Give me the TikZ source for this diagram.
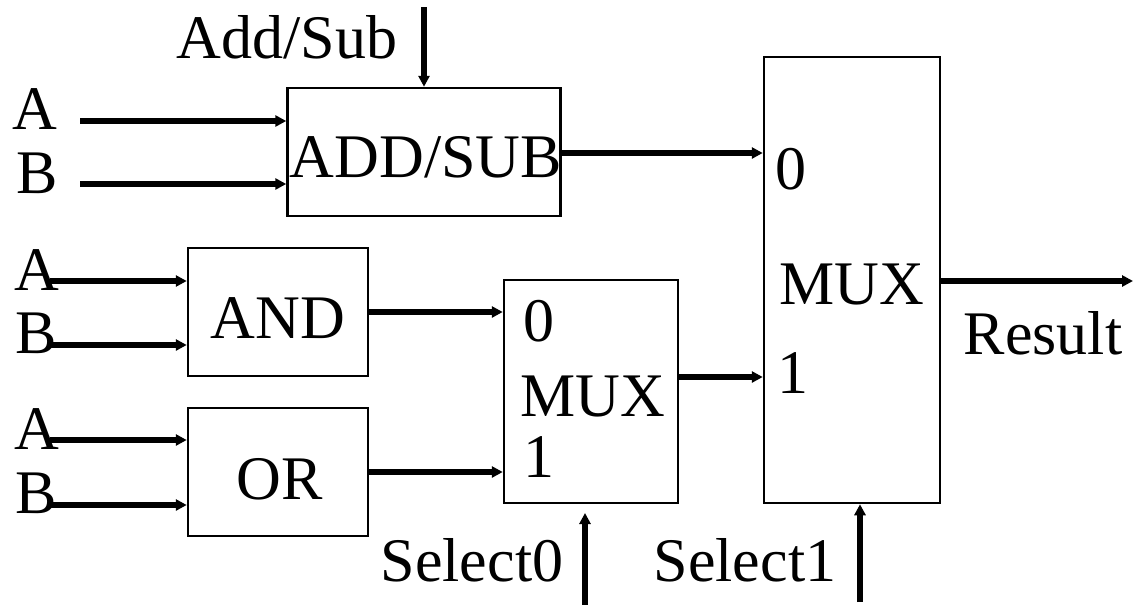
\documentclass[tikz,border=0pt]{standalone}
\usepackage{fontspec}
\setmainfont{Liberation Serif}
\usetikzlibrary{arrows.meta}
\begin{document}
\begin{tikzpicture}[x=1pt,y=-1pt,font=\fontsize{62}{62}\selectfont,>={Triangle[length=11pt,width=11pt]},
  blk/.style={draw,line width=2.5pt,inner sep=0pt},
  wire/.style={->,line width=5.5pt}]
\useasboundingbox (0,0) rectangle (1133,605);
\node[blk,minimum width=273pt,minimum height=128pt] (addsub) at (424,152) {};
\node[blk,minimum width=180pt,minimum height=128pt] (and) at (278,312) {};
\node[blk,minimum width=180pt,minimum height=128pt] (or) at (278,472) {};
\node[blk,minimum width=174pt,minimum height=223pt] (smux) at (591,391.5) {};
\node[blk,minimum width=176pt,minimum height=446pt] (bmux) at (852,280) {};
% texts
\node (tadd) at (426,157) {ADD/SUB};
\node (tand) at (278,318) {AND};
\node (tor) at (280,479) {OR};
\node (s0) at (539,321) {0};
\node (smx) at (593,397) {MUX};
\node (s1) at (539,457) {1};
\node (b0) at (791,169) {0};
\node (bmx) at (852,285) {MUX};
\node (b1) at (793,373) {1};
\node (res) at (1043,333) {Result};
\node (lad) at (287,37) {Add/Sub};
\node (a1) at (35,109) {A};
\node (b1in) at (37,173) {B};
\node (a2) at (37,270) {A};
\node (b2) at (36,333) {B};
\node (a3) at (37,429) {A};
\node (b3) at (36,493) {B};
\node (sel0) at (472,560) {Select0};
\node (sel1) at (745,560) {Select1};
% wire ends
\coordinate (ia1) at (80,121);
\coordinate (ib1) at (80,184);
\coordinate (ia2) at (50,281);
\coordinate (ib2) at (50,345);
\coordinate (ia3) at (50,440);
\coordinate (ib3) at (50,505);
\coordinate (iadd) at (424,7);
\coordinate (oadd) at (560,153);
\coordinate (osm) at (678,377);
\coordinate (oall) at (940,281);
\coordinate (out) at (1133,281);
\coordinate (is0) at (585,605);
\coordinate (is0t) at (585,513);
\coordinate (is1) at (860,602);
\draw[wire] (iadd) -- (iadd |- addsub.north);
\draw[wire] (ia1) -- (ia1 -| addsub.west);
\draw[wire] (ib1) -- (ib1 -| addsub.west);
\draw[wire] (ia2) -- (ia2 -| and.west);
\draw[wire] (ib2) -- (ib2 -| and.west);
\draw[wire] (ia3) -- (ia3 -| or.west);
\draw[wire] (ib3) -- (ib3 -| or.west);
\draw[wire] (oadd) -- (oadd -| bmux.west);
\draw[wire] (and.east) -- (and.east -| smux.west);
\draw[wire] (or.east) -- (or.east -| smux.west);
\draw[wire] (osm) -- (osm -| bmux.west);
\draw[wire] (oall) -- (out);
\draw[wire] (is0) -- (is0t);
\draw[wire] (is1) -- (is1 |- bmux.south);
\end{tikzpicture}
\end{document}
